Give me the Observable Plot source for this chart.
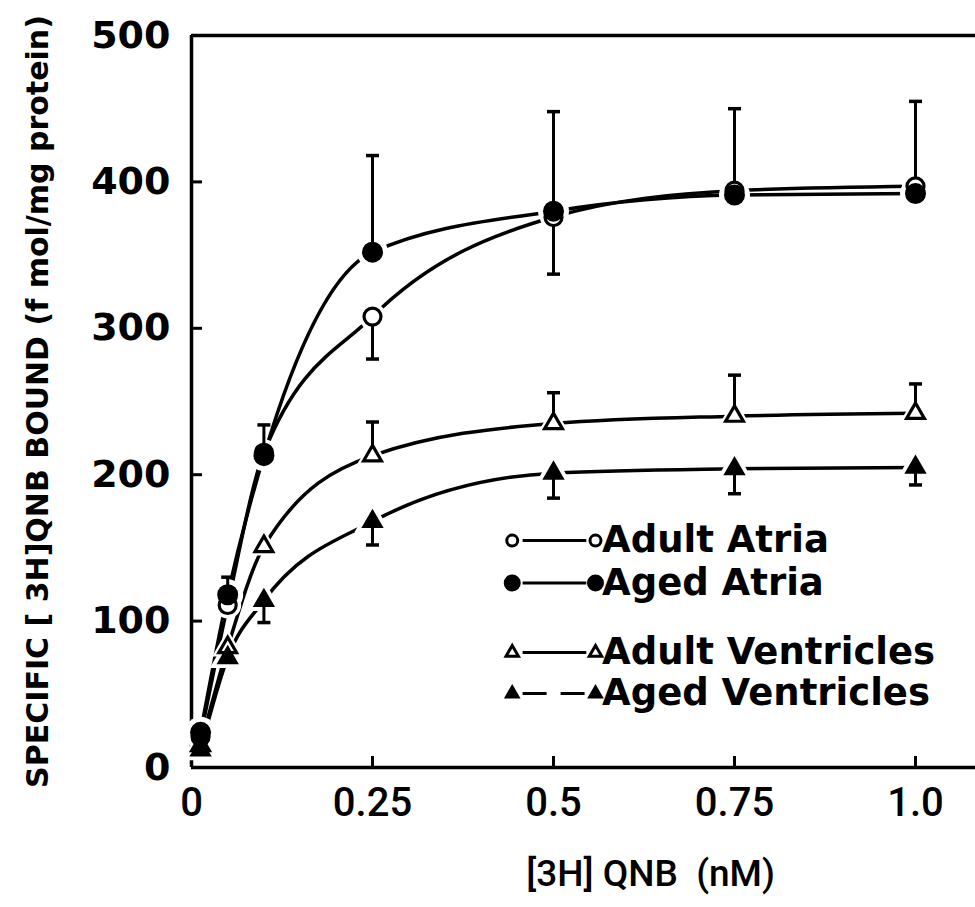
<!DOCTYPE html>
<html><head><meta charset="utf-8">
<script src="https://cdn.jsdelivr.net/npm/d3@7"></script>
<script src="https://cdn.jsdelivr.net/npm/@observablehq/plot@0.6"></script>
<style>
html,body{margin:0;padding:0;background:#fff;}
#chart svg{display:block;}
</style></head><body><div id="chart"></div>
<script>
// ---- data ----
const concentrations = [0.0125, 0.05, 0.1, 0.25, 0.5, 0.75, 1.0];
const seriesNames = ["Adult Atria", "Aged Atria", "Adult Ventricles", "Aged Ventricles"];
const adultAtria      = [21, 111, 215, 308, 376, 394, 397];
const agedAtria       = [24, 118, 213, 352, 380, 391, 392];
const adultVentricles = [15,  82, 151, 213, 235, 240, 242];
const agedVentricles  = [12,  75, 114, 168, 201, 204, 205];
// error bar lengths (each drawn in one direction, as in the figure)
const adultAtriaErr      = [0, 0, 0, 29, 39, 0, 0];   // down
const agedAtriaErr       = [0, 12, 21, 66, 68, 59, 63]; // up
const adultVentriclesErr = [0, 0, 0, 23, 21, 28, 20];  // up
const agedVentriclesErr  = [0, 0, 15, 16, 17, 17, 12]; // down
const xTicks = [0, 0.25, 0.5, 0.75, 1.0];
const xTickLabels = ["0", "0.25", "0.5", "0.75", "1.0"];
const yTicks = [0, 100, 200, 300, 400, 500];
const xTitle = "[3H] QNB  (nM)";
const yTitle = "SPECIFIC [ 3H]QNB BOUND (f mol/mg protein)";

// ---- layout ----
const W = 975, H = 907, mL = 191, mR = 0, mT = 35, mB = 140;
const plotW = W - mL - mR, plotH = H - mT - mB;
const xMax = plotW / 724;

const series = [
  {name: seriesNames[0], values: adultAtria, err: adultAtriaErr, dir: -1, symbol: "circle", filled: false},
  {name: seriesNames[2], values: adultVentricles, err: adultVentriclesErr, dir: 1, symbol: "triangle", filled: false},
  {name: seriesNames[1], values: agedAtria, err: agedAtriaErr, dir: 1, symbol: "circle", filled: true},
  {name: seriesNames[3], values: agedVentricles, err: agedVentriclesErr, dir: -1, symbol: "triangle", filled: true}
];
const pts = s => concentrations.map((c, i) => ({series: s.name, x: c, y: s.values[i], e: s.err[i], y2: s.values[i] + s.dir * s.err[i]}));
const allPts = series.flatMap(pts);
const errPts = allPts.filter(d => d.e > 0);

const capSymbol = {draw(ctx, size) { const w = Math.sqrt(size / Math.PI); ctx.moveTo(-w, 0); ctx.lineTo(w, 0); }};

function markerSize(s) {
  if (s.symbol === "circle") return s.filled ? 10.5 : 8.5;
  return s.filled ? 8.3 : 6.6;
}

const marks = [];
// frame lines
marks.push(Plot.ruleX([0], {strokeWidth: 3.5}));
marks.push(Plot.ruleY([0, 500], {strokeWidth: 3.5}));
// inward ticks
marks.push(Plot.tickY(yTicks.filter(v => v > 0 && v < 500), {y: d => d, insetRight: plotW - 11, strokeWidth: 3}));
marks.push(Plot.tickX(xTicks.filter(v => v > 0), {x: d => d, insetTop: plotH - 11, strokeWidth: 3}));
// axes labels
marks.push(Plot.axisY(yTicks, {tickSize: 0, tickPadding: 21, label: null, fontSize: 38, fontWeight: "bold", fontFamily: "DejaVu Sans", fill: "black"}));
marks.push(Plot.axisX(xTicks, {tickSize: 0, tickPadding: 20, label: null, tickFormat: d => xTickLabels[xTicks.indexOf(d)], fontSize: 40, fontWeight: 500, fontFamily: "Roboto, Liberation Sans", fill: "black"}));
// curves
marks.push(Plot.line(allPts, {x: "x", y: "y", z: "series", curve: "monotone-x", strokeWidth: 3.5, stroke: "black"}));
// white halos around markers (gaps in lines)
for (const s of series) {
  marks.push(Plot.dot(pts(s), {x: "x", y: "y", r: markerSize(s) + 5, symbol: s.symbol, fill: "white", stroke: "none"}));
}
// error bars
marks.push(Plot.ruleX(errPts, {x: "x", y1: "y", y2: "y2", strokeWidth: 3}));
marks.push(Plot.dot(errPts, {x: "x", y: "y2", r: 6.5, symbol: capSymbol, stroke: "black", strokeWidth: 3.5}));
// markers
for (const s of series) {
  marks.push(Plot.dot(pts(s), {x: "x", y: "y", r: markerSize(s), symbol: s.symbol,
    fill: s.filled ? "black" : "white", stroke: "black", strokeWidth: s.filled ? 0 : 3.2}));
}
// legend (data-space layout)
const legendRows = [
  {name: "Adult Atria", y: 155, symbol: "circle", filled: false, dash: null},
  {name: "Aged Atria", y: 126, symbol: "circle", filled: true, dash: null},
  {name: "Adult Ventricles", y: 78.5, symbol: "triangle", filled: false, dash: null},
  {name: "Aged Ventricles", y: 50.5, symbol: "triangle", filled: true, dash: "24,14"}
];
const lgX1 = 0.443, lgX2 = 0.558, lgText = 0.567;
for (const row of legendRows) {
  marks.push(Plot.ruleY([row], {y: "y", x1: lgX1 + 0.015, x2: lgX2 - 0.012, strokeWidth: 3, strokeDasharray: row.dash}));
  const r = row.symbol === "circle" ? (row.filled ? 8.5 : 5.5) : (row.filled ? 6.2 : 4.6);
  marks.push(Plot.dot([lgX1, lgX2], {x: d => d, y: () => row.y, r, symbol: row.symbol,
    fill: row.filled ? "black" : "white", stroke: "black", strokeWidth: row.filled ? 0 : 3}));
}
marks.push(Plot.text(legendRows, {x: () => lgText, y: "y", text: "name", textAnchor: "start", fontSize: 37, fontWeight: "bold", fontFamily: "DejaVu Sans", fill: "black", ariaLabel: "legendtext"}));
// titles
marks.push(Plot.text([yTitle], {frameAnchor: "left", textAnchor: "middle", rotate: -90, dx: -153, text: d => d, fontSize: 30, fontWeight: "bold", fontFamily: "DejaVu Sans", fill: "black", ariaLabel: "ytitle"}));
marks.push(Plot.text([xTitle], {frameAnchor: "bottom", dx: 67, dy: 118, text: d => d, fontSize: 37, fontFamily: "Roboto, Liberation Sans", fontWeight: 500, fill: "black", ariaLabel: "xtitle"}));

const chart = Plot.plot({
  width: W, height: H,
  marginLeft: mL, marginRight: mR, marginTop: mT, marginBottom: mB,
  x: {domain: [0, xMax], axis: null},
  y: {domain: [0, 500], axis: null},
  style: {background: "white", color: "black", fontFamily: "DejaVu Sans"},
  marks
});
document.getElementById("chart").appendChild(chart);
const svg = d3.select(chart);
svg.select('g[aria-label="ytitle"] text').attr("textLength", 735).attr("lengthAdjust", "spacingAndGlyphs");
svg.select('g[aria-label="xtitle"] text').attr("textLength", 370).attr("lengthAdjust", "spacing");
</script>
</body></html>
